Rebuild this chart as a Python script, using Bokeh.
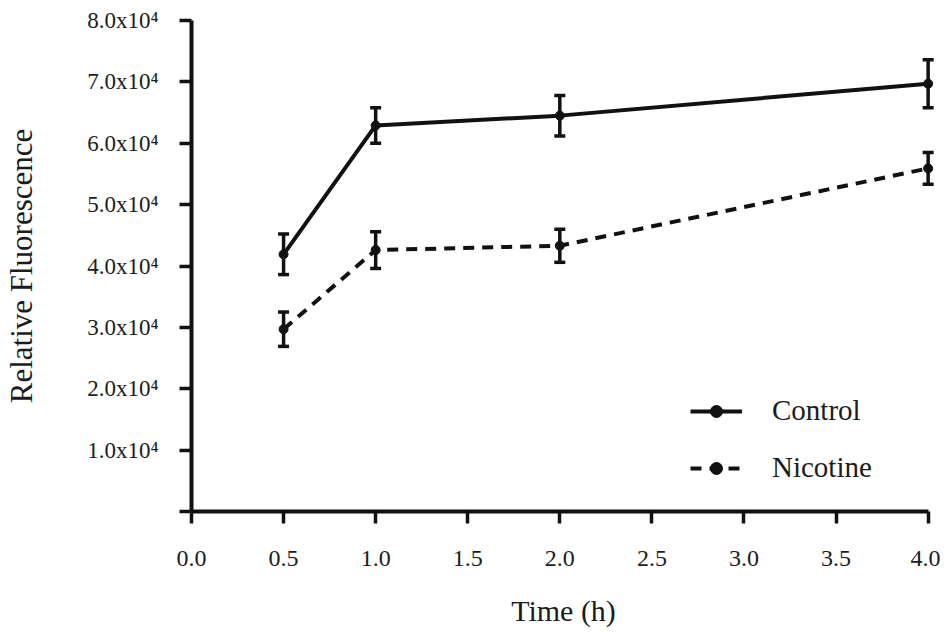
from bokeh.plotting import figure
from bokeh.models import Range1d, FixedTicker, Whisker, ColumnDataSource, TeeHead, Legend, LegendItem
from bokeh.embed import file_html
from bokeh.resources import INLINE

# ---- data ----
time_h = [0.5, 1.0, 2.0, 4.0]
control = [4.19e4, 6.29e4, 6.45e4, 6.97e4]
control_err = [0.33e4, 0.29e4, 0.33e4, 0.39e4]
nicotine = [2.97e4, 4.26e4, 4.33e4, 5.59e4]
nicotine_err = [0.28e4, 0.30e4, 0.27e4, 0.26e4]

x_ticks = [0.0, 0.5, 1.0, 1.5, 2.0, 2.5, 3.0, 3.5, 4.0]
x_tick_labels = ["0.0", "0.5", "1.0", "1.5", "2.0", "2.5", "3.0", "3.5", "4.0"]
y_ticks = [0, 1e4, 2e4, 3e4, 4e4, 5e4, 6e4, 7e4, 8e4]
y_tick_labels = ["", "1.0x10⁴", "2.0x10⁴", "3.0x10⁴", "4.0x10⁴", "5.0x10⁴",
                 "6.0x10⁴", "7.0x10⁴", "8.0x10⁴"]

FONT = "Liberation Serif"
INK = "#111111"
TXT = "#1c1c1c"

p = figure(width=940, height=633, output_backend="svg", toolbar_location=None,
           x_range=Range1d(0, 4.04), y_range=Range1d(0, 8e4),
           min_border_left=191, min_border_right=5, min_border_top=20, min_border_bottom=122)
p.outline_line_color = None
p.grid.visible = False
p.background_fill_color = "white"

# axes
for ax in (p.xaxis[0], p.yaxis[0]):
    ax.axis_line_width = 4
    ax.axis_line_color = INK
    ax.major_tick_line_width = 3.5
    ax.major_tick_line_color = INK
    ax.major_tick_out = 12
    ax.major_tick_in = 0
    ax.minor_tick_line_color = None
    ax.major_label_text_font = FONT
    ax.major_label_text_color = TXT
    ax.axis_label_text_font = FONT
    ax.axis_label_text_font_style = "normal"
    ax.axis_label_text_color = TXT

p.xaxis[0].bounds = (0, 4)
p.xaxis[0].ticker = FixedTicker(ticks=x_ticks)
p.xaxis[0].major_label_overrides = {t: l for t, l in zip(x_ticks, x_tick_labels)}
p.xaxis[0].major_label_text_font_size = "24px"
p.xaxis[0].major_label_standoff = 27
p.xaxis[0].axis_label = "Time (h)"
p.xaxis[0].axis_label_text_font_size = "30px"
p.xaxis[0].axis_label_standoff = 25

p.yaxis[0].ticker = FixedTicker(ticks=y_ticks)
p.yaxis[0].major_label_overrides = {t: l for t, l in zip(y_ticks, y_tick_labels)}
p.yaxis[0].major_label_text_font_size = "23px"
p.yaxis[0].major_label_standoff = 21
p.yaxis[0].axis_label = "Relative Fluorescence"
p.yaxis[0].axis_label_text_font_size = "31px"
p.yaxis[0].axis_label_standoff = 45

# series
def band(vals, errs):
    return ColumnDataSource(dict(
        x=time_h, y=vals,
        lower=[v - e for v, e in zip(vals, errs)],
        upper=[v + e for v, e in zip(vals, errs)]))

src_c = band(control, control_err)
src_n = band(nicotine, nicotine_err)

for src in (src_c, src_n):
    w = Whisker(source=src, base="x", lower="lower", upper="upper", dimension="height",
                line_color=INK, line_width=3.5,
                upper_head=TeeHead(size=11, line_width=3.5, line_color=INK),
                lower_head=TeeHead(size=11, line_width=3.5, line_color=INK))
    p.add_layout(w)

lc = p.line("x", "y", source=src_c, line_color=INK, line_width=4)
sc = p.scatter("x", "y", source=src_c, size=9, color=INK)
ln = p.line("x", "y", source=src_n, line_color=INK, line_width=4, line_dash="11 8")
sn = p.scatter("x", "y", source=src_n, size=9, color=INK)

legend = Legend(items=[LegendItem(label="Control", renderers=[lc, sc]),
                       LegendItem(label="Nicotine", renderers=[ln, sn])],
                location=(499, 27), padding=0, margin=0, spacing=24,
                glyph_width=52, glyph_height=30, label_height=30, label_standoff=30,
                label_text_font=FONT, label_text_font_size="29px", label_text_color=TXT,
                background_fill_alpha=0, border_line_color=None)
p.add_layout(legend, "center")

open("out.html", "w").write(file_html(p, INLINE))
